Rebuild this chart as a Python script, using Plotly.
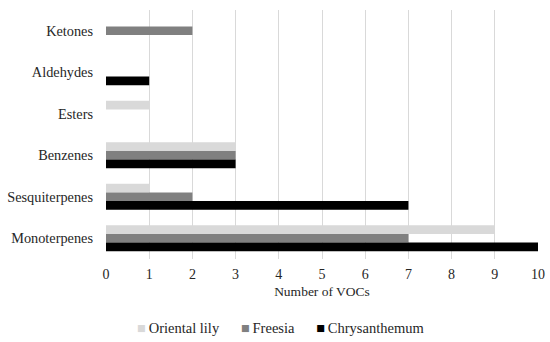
import plotly.graph_objects as go

categories = ["Ketones", "Aldehydes", "Esters", "Benzenes", "Sesquiterpenes", "Monoterpenes"]
oriental_lily = [0, 0, 1, 3, 1, 9]
freesia = [2, 0, 0, 3, 2, 7]
chrysanthemum = [0, 1, 0, 3, 7, 10]
x_ticks = list(range(0, 11))

series = [
    ("Oriental lily", oriental_lily, "#d9d9d9"),
    ("Freesia", freesia, "#808080"),
    ("Chrysanthemum", chrysanthemum, "#000000"),
]

fig = go.Figure()
for name, vals, color in series:
    fig.add_trace(go.Bar(y=categories, x=vals, name=name, orientation="h",
                         marker=dict(color=color, line=dict(width=0))))

font = "Liberation Serif, Times New Roman, serif"
txt = "#262626"

# compact legend row built from the series names and colours
gap = "\u2002\u2002\u2002"
legend_text = gap.join(
    f"<span style='color:{color}'>■</span>\u2009{name}" for name, _, color in series)
fig.add_annotation(text=legend_text, xref="paper", yref="paper",
                   x=0.405, y=-0.277, xanchor="center", yanchor="middle",
                   showarrow=False, font=dict(family=font, size=14.5, color=txt))

fig.update_layout(
    width=550, height=342,
    margin=dict(l=106, r=12, t=10, b=83, autoexpand=False),
    barmode="group", bargap=0.37, bargroupgap=0,
    paper_bgcolor="white", plot_bgcolor="white",
    font=dict(family=font, size=14, color=txt),
    showlegend=False,
    xaxis=dict(range=[0, 10], tickvals=x_ticks, showgrid=True, gridcolor="#d9d9d9",
               gridwidth=1, zeroline=False, showline=False, ticks="",
               tickfont=dict(size=14, color=txt), automargin=False, ticklabelstandoff=5,
               title=dict(text="Number of VOCs", font=dict(size=13.5, color=txt), standoff=5)),
    yaxis=dict(autorange="reversed", showgrid=False, showline=False, ticks="",
               tickfont=dict(size=14.3, color=txt), ticklabelstandoff=12, automargin=False),
)

fig.write_html("out.html", config={"displayModeBar": False},
               post_script="document.body.style.margin='0';document.body.style.padding='0';")
